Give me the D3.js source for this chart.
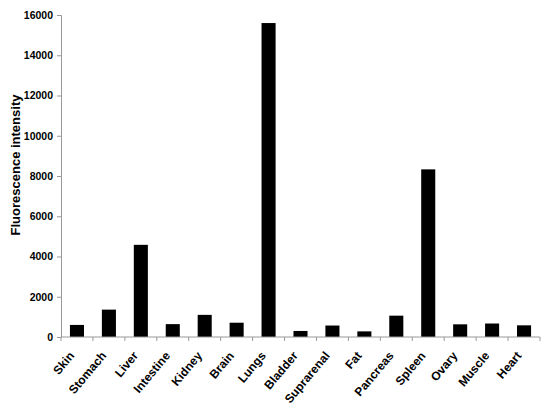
<!DOCTYPE html>
<html>
<head>
<meta charset="utf-8">
<script src="https://cdn.jsdelivr.net/npm/d3@7"></script>
<style>
  body { margin: 0; background: #fff; }
  svg text { font-family: "Liberation Sans", Arial, sans-serif; font-weight: bold; fill: #000; }
</style>
</head>
<body>
<script>
var organs = ["Skin", "Stomach", "Liver", "Intestine", "Kidney", "Brain", "Lungs", "Bladder",
  "Suprarenal", "Fat", "Pancreas", "Spleen", "Ovary", "Muscle", "Heart"];
var intensity = [600, 1360, 4580, 640, 1100, 710, 15600, 300, 570, 280, 1060, 8330, 630, 670, 580];
var yTicks = [0, 2000, 4000, 6000, 8000, 10000, 12000, 14000, 16000];

var width = 550, height = 408;
var margin = {top: 15, right: 10, bottom: 71, left: 61};
var innerW = width - margin.left - margin.right;
var innerH = height - margin.top - margin.bottom;

var svg = d3.select("body").append("svg")
  .attr("width", width)
  .attr("height", height);

var canvas = svg.append("g")
  .attr("transform", "translate(" + margin.left + "," + margin.top + ")");

var x = d3.scaleBand()
  .domain(organs)
  .range([0, innerW])
  .paddingInner(0.56)
  .paddingOuter(0.28);

var band = innerW / organs.length;

var y = d3.scaleLinear()
  .domain([0, 16000])
  .range([innerH, 0]);

// bars
canvas.selectAll("rect")
  .data(organs)
  .enter()
  .append("rect")
    .attr("x", function(d) { return x(d); })
    .attr("width", x.bandwidth())
    .attr("y", function(d, i) { return y(intensity[i]); })
    .attr("height", function(d, i) { return innerH - y(intensity[i]); })
    .attr("fill", "#000");

// y axis
var yAxis = canvas.append("g")
  .attr("class", "y axis")
  .call(d3.axisLeft(y).tickValues(yTicks).tickSize(4).tickPadding(4).tickFormat(d3.format("d")));
yAxis.selectAll("path, line").attr("stroke", "#999");
yAxis.selectAll("text").style("font-size", "10.5px");

// x axis: line and ticks at band boundaries
var xg = canvas.append("g")
  .attr("class", "x axis")
  .attr("transform", "translate(0," + innerH + ")");
xg.append("line")
  .attr("x1", 0).attr("x2", innerW)
  .attr("stroke", "#999");
xg.selectAll("line.tick")
  .data(d3.range(organs.length + 1))
  .enter()
  .append("line")
    .attr("class", "tick")
    .attr("x1", function(d) { return d * band; })
    .attr("x2", function(d) { return d * band; })
    .attr("y1", 0).attr("y2", 4)
    .attr("stroke", "#999");

xg.selectAll("text")
  .data(organs)
  .enter()
  .append("text")
    .attr("text-anchor", "end")
    .attr("transform", function(d) {
      return "translate(" + (x(d) + x.bandwidth() / 2 - 2) + ",19) rotate(-50)";
    })
    .style("font-size", "12px")
    .text(function(d) { return d; });

// y label
svg.append("text")
  .attr("text-anchor", "middle")
  .attr("transform", "translate(20,165) rotate(-90)")
  .style("font-size", "13px")
  .text("Fluorescence intensity");
</script>
</body>
</html>
